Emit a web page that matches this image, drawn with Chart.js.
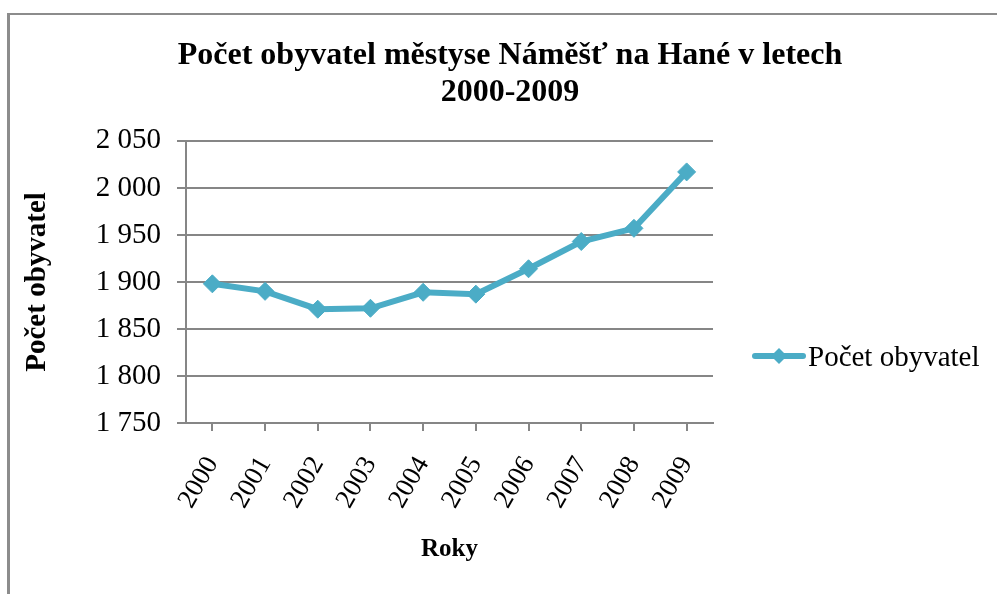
<!DOCTYPE html>
<html>
<head>
<meta charset="utf-8">
<script src="https://cdn.jsdelivr.net/npm/chart.js@4"></script>
<style>
  html, body { margin: 0; padding: 0; background: #fff; }
  #wrap { position: relative; width: 997px; height: 594px; overflow: hidden; }
  #frame { position: absolute; left: 7px; top: 13px; width: 1100px; height: 700px;
           border-left: 3px solid #8c8c8c; border-top: 2px solid #8c8c8c; }
  canvas { position: absolute; left: 0; top: 0; }
</style>
</head>
<body>
<div id="wrap">
  <div id="frame"></div>
  <canvas id="chart" width="997" height="594"></canvas>
</div>
<script>
// data
const years = ['2000', '2001', '2002', '2003', '2004', '2005', '2006', '2007', '2008', '2009'];
const population = [1898, 1890, 1871, 1872, 1889, 1887, 1914, 1943, 1957, 2017];
const seriesName = 'Počet obyvatel';
const titleLines = ['Počet obyvatel městyse Náměšť na Hané v letech', '2000-2009'];
const yTitle = 'Počet obyvatel';
const xTitle = 'Roky';
const yMin = 1750, yMax = 2050, yStep = 50;

const color = '#4BACC6';
const gray = '#868686';
const serif = "'Liberation Serif', 'Times New Roman', serif";

// space as thousands separator, e.g. 2 050
const fmt = v => String(v).replace(/\B(?=(\d{3})+(?!\d))/g, ' ');

// legend: line with a diamond, like the office chart
const lineLegend = {
  id: 'lineLegend',
  afterDraw(chart) {
    const ctx = chart.ctx;
    const ds = chart.data.datasets[0];
    const x0 = chart.chartArea.right + 39;
    const y = 356;
    const w = 54;
    ctx.save();
    ctx.strokeStyle = ds.borderColor;
    ctx.lineWidth = 6;
    ctx.lineCap = 'round';
    ctx.beginPath();
    ctx.moveTo(x0 + 3, y);
    ctx.lineTo(x0 + w - 3, y);
    ctx.stroke();
    const cx = x0 + w / 2, r = 8;
    ctx.fillStyle = ds.borderColor;
    ctx.beginPath();
    ctx.moveTo(cx - r, y);
    ctx.lineTo(cx, y - r);
    ctx.lineTo(cx + r, y);
    ctx.lineTo(cx, y + r);
    ctx.closePath();
    ctx.fill();
    ctx.fillStyle = '#000';
    ctx.font = '29px ' + serif;
    ctx.textBaseline = 'alphabetic';
    ctx.textAlign = 'left';
    ctx.fillText(ds.label, x0 + w + 2, 366);
    ctx.restore();
  }
};

new Chart(document.getElementById('chart'), {
  type: 'line',
  data: {
    labels: years,
    datasets: [{
      label: seriesName,
      data: population,
      borderColor: color,
      backgroundColor: color,
      borderWidth: 6,
      tension: 0,
      pointStyle: 'rectRot',
      pointRadius: 9,
      pointBorderWidth: 1,
      pointBackgroundColor: color,
      pointBorderColor: color
    }]
  },
  options: {
    responsive: false,
    animation: false,
    layout: { padding: { left: 23, right: 0, top: 0, bottom: 0 } },
    plugins: {
      title: {
        display: true,
        text: titleLines,
        color: '#000',
        font: { family: serif, size: 32, weight: 'bold', lineHeight: 1.17 },
        padding: { top: 37, bottom: 29 }
      },
      legend: { display: false },
      tooltip: { enabled: false }
    },
    scales: {
      x: {
        offset: true,
        grid: { display: true, drawOnChartArea: false, drawTicks: true, tickLength: 8, offset: false, color: gray, lineWidth: 2 },
        border: { display: true, color: gray, width: 2 },
        ticks: {
          color: '#000',
          font: { family: serif, size: 27, lineHeight: 0.32 },
          minRotation: 60,
          maxRotation: 60,
          autoSkip: false,
          padding: 26
        },
        title: {
          display: true,
          text: xTitle,
          color: '#000',
          font: { family: serif, size: 25, weight: 'bold', lineHeight: 1.2 },
          padding: { top: 0, bottom: 29 }
        },
        afterFit(scale) { scale.height = 171; }
      },
      y: {
        min: yMin,
        max: yMax,
        grid: { color: gray, lineWidth: 2, drawTicks: true, tickLength: 9 },
        border: { display: true, color: gray, width: 2 },
        ticks: {
          stepSize: yStep,
          color: '#000',
          font: { family: serif, size: 29 },
          padding: 16,
          callback: v => fmt(v)
        },
        title: {
          display: true,
          text: yTitle,
          color: '#000',
          font: { family: serif, size: 29, weight: 'bold', lineHeight: 1 },
          padding: 0
        },
        afterFit(scale) { scale.width = 163; }
      },
      // empty axis on the right that keeps room for the legend
      side: {
        position: 'right',
        display: true,
        grid: { display: false, drawTicks: false },
        border: { display: false },
        ticks: { display: false },
        afterFit(scale) { scale.width = 284; }
      }
    }
  },
  plugins: [lineLegend]
});
</script>
</body>
</html>
